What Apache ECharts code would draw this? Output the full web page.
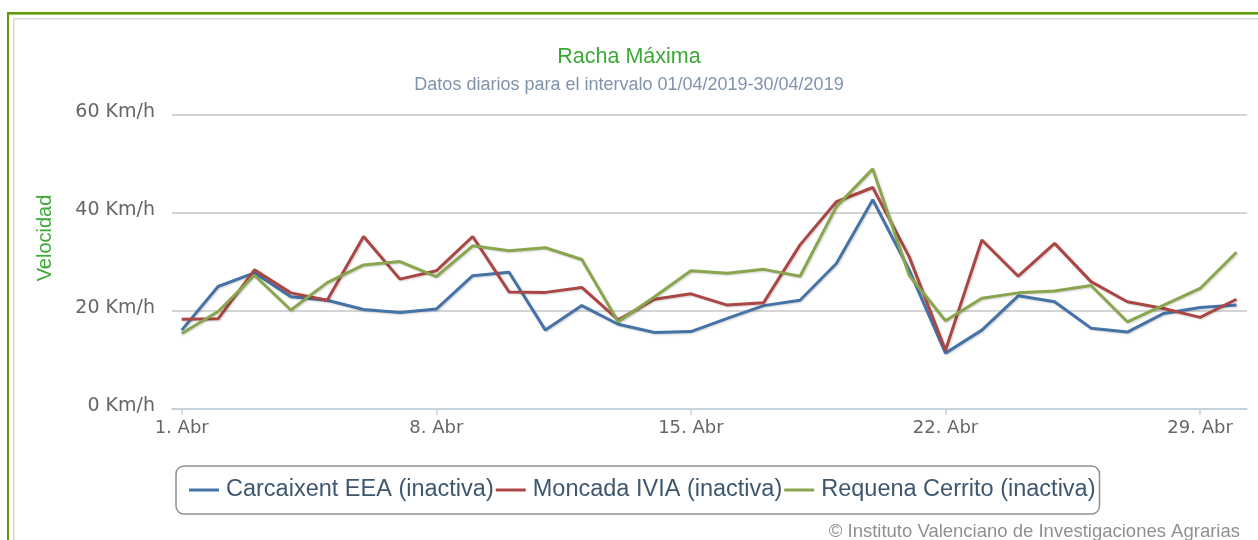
<!DOCTYPE html>
<html>
<head>
<meta charset="utf-8">
<script src="https://cdn.jsdelivr.net/npm/echarts@6/dist/echarts.min.js"></script>
<style>
  html, body { margin: 0; padding: 0; background: #fff; }
  #chart { width: 1258px; height: 540px; }
</style>
</head>
<body>
<div id="chart"></div>
<script>
// dias del mes (abril 2019)
var dias = [1,2,3,4,5,6,7,8,9,10,11,12,13,14,15,16,17,18,19,20,21,22,23,24,25,26,27,28,29,30];
var tickDias = [1, 8, 15, 22, 29];

var carcaixent = [16.1,25.0,27.8,22.9,22.2,20.3,19.7,20.4,27.2,27.9,16.1,21.1,17.3,15.6,15.8,18.5,21.1,22.2,29.7,42.7,28.4,11.4,16.1,23.1,21.9,16.5,15.7,19.5,20.7,21.2];
var moncada    = [18.3,18.4,28.4,23.7,22.2,35.2,26.5,28.2,35.2,23.9,23.8,24.8,18.2,22.4,23.5,21.2,21.7,33.5,42.3,45.2,31.1,12.0,34.5,27.1,33.8,26.0,21.9,20.5,18.7,22.4];
var requena    = [15.4,19.9,27.3,20.2,25.8,29.4,30.1,27.0,33.3,32.3,32.9,30.5,17.8,22.9,28.2,27.7,28.5,27.1,41.3,49.0,27.3,18.0,22.6,23.7,24.1,25.2,17.8,21.2,24.6,32.0];

var nombres = ['Carcaixent EEA (inactiva)', 'Moncada IVIA (inactiva)', 'Requena Cerrito (inactiva)'];
var colores = ['#4572A7', '#AA4643', '#89A54E'];

function pares(vals) {
  var out = [];
  for (var i = 0; i < dias.length; i++) out.push([dias[i], vals[i]]);
  return out;
}

function serie(idx, vals) {
  return {
    name: nombres[idx],
    type: 'line',
    data: pares(vals),
    showSymbol: false,
    symbol: 'none',
    animation: false,
    lineStyle: {
      color: colores[idx], width: 3,
      shadowColor: 'rgba(0,0,0,0.18)', shadowBlur: 2, shadowOffsetX: 1, shadowOffsetY: 1
    },
    itemStyle: { color: colores[idx] }
  };
}

var myChart = echarts.init(document.getElementById('chart'), null, { renderer: 'canvas' });
myChart.setOption({
  animation: false,
  title: [{
    text: 'Racha Máxima',
    left: 'center',
    top: 41,
    textStyle: { color: '#3aa935', fontSize: 21.5, fontWeight: 'normal', fontFamily: 'Liberation Sans' }
  }, {
    text: 'Datos diarios para el intervalo 01/04/2019-30/04/2019',
    left: 'center',
    top: 71,
    textStyle: { color: '#7f93ad', fontSize: 18, fontWeight: 'normal', fontFamily: 'Liberation Sans' }
  }, {
    text: '© Instituto Valenciano de Investigaciones Agrarias',
    right: 13,
    top: 517,
    textStyle: { color: '#909090', fontSize: 18.5, fontWeight: 'normal', fontFamily: 'Liberation Sans' }
  }],
  legend: {
    left: 176,
    top: 466,
    padding: [12, 4, 12, 13],
    itemGap: 2,
    itemWidth: 30,
    itemHeight: 3,
    icon: 'rect',
    borderColor: '#909090',
    borderWidth: 1.5,
    borderRadius: 8,
    textStyle: { color: '#3E576F', fontSize: 23.5, fontFamily: 'Liberation Sans', padding: [0, 0, 0, 2] },
    data: nombres
  },
  grid: { left: 172, right: 11, top: 115, bottom: 131 },
  xAxis: {
    type: 'value',
    min: 0.733,
    max: 30.29,
    splitLine: { show: false },
    axisLine: { lineStyle: { color: '#C0D0E0', width: 1.5 } },
    axisTick: { show: true, length: 6, customValues: tickDias, lineStyle: { color: '#C0D0E0', width: 1.5 } },
    axisLabel: {
      customValues: tickDias,
      color: '#666', fontSize: 18, fontFamily: 'DejaVu Sans', margin: 10,
      formatter: function (v) { return v + '. Abr'; }
    }
  },
  yAxis: {
    type: 'value',
    min: 0, max: 60, interval: 20,
    axisLine: { show: false },
    axisTick: { show: false },
    splitLine: { lineStyle: { color: '#C6C6C6', width: 1.5 } },
    axisLabel: {
      color: '#666', fontSize: 19, fontFamily: 'DejaVu Sans', margin: 17,
      verticalAlign: 'bottom', lineHeight: 22,
      padding: [0, 0, -8, 0],
      formatter: function (v) { return v + ' Km/h'; }
    }
  },
  graphic: [
    { type: 'rect', shape: { x: 7, y: 12, width: 1251, height: 2 }, style: { fill: '#5f9b0c' }, silent: true },
    { type: 'rect', shape: { x: 7, y: 14, width: 1251, height: 1 }, style: { fill: '#9cc65a' }, silent: true },
    { type: 'rect', shape: { x: 7, y: 12, width: 2, height: 528 }, style: { fill: '#5f9b0c' }, silent: true },
    { type: 'rect', shape: { x: 13, y: 18, width: 1245, height: 1.5 }, style: { fill: '#d8d8d8' }, silent: true },
    { type: 'rect', shape: { x: 13, y: 18, width: 1.5, height: 522 }, style: { fill: '#d8d8d8' }, silent: true },
    {
      type: 'text', x: 45, y: 238, rotation: Math.PI / 2, silent: true,
      style: { text: 'Velocidad', fill: '#3aa935', fontSize: 20, fontFamily: 'Liberation Sans', align: 'center', verticalAlign: 'middle' }
    }
  ],
  series: [serie(0, carcaixent), serie(1, moncada), serie(2, requena)]
});
</script>
</body>
</html>
